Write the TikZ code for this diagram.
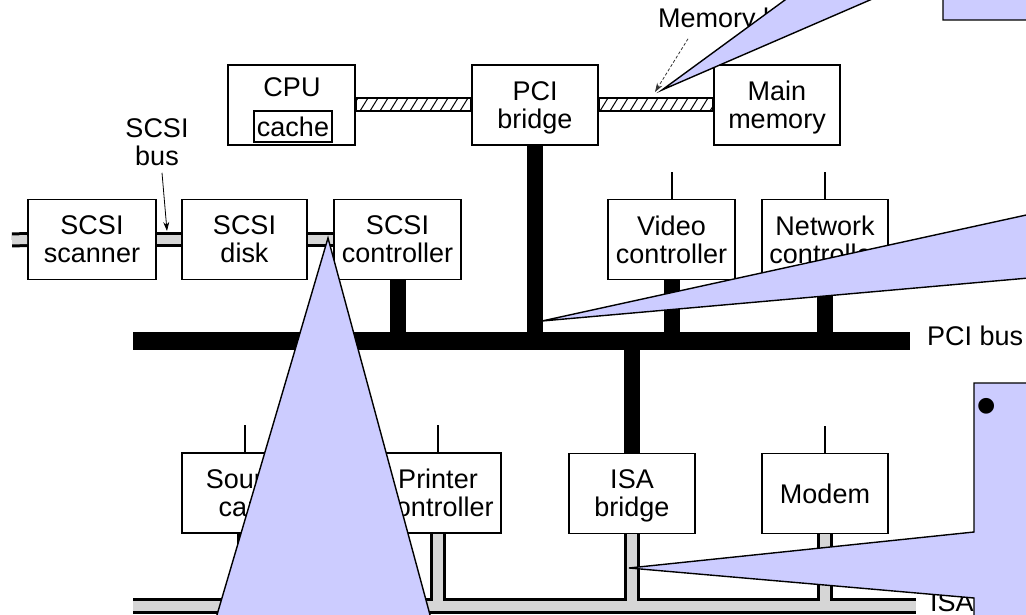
\documentclass[tikz,border=0pt]{standalone}
\usepackage{fontspec}
\setmainfont{Liberation Sans}
\usetikzlibrary{arrows.meta}
\definecolor{calloutfill}{HTML}{CCCCFF}
\definecolor{busgray}{HTML}{D6D6D6}
\begin{document}
\begin{tikzpicture}[x=1pt,y=-1pt,
  txt/.style={font=\fontsize{27}{28}\selectfont, inner sep=0pt},
  unit/.style={txt, draw, line width=1.8pt, fill=white, minimum width=126pt,
    minimum height=80pt, align=center, text depth=0pt},
  stub/.style={line width=2pt},
  pcibus/.style={line width=18pt},
  pcidrop/.style={line width=16pt},
  isaedge/.style={line width=16pt, black},
  isafill/.style={line width=10pt, busgray},
  scsiedge/.style={line width=15pt, black},
  scsifill/.style={line width=9pt, busgray},
  ptr/.style={line width=0.8pt, -{Stealth[length=9pt,width=6pt]}},
  callout/.style={fill=calloutfill, draw=black, line width=1.4pt, line join=miter}
]
\useasboundingbox (0,0) rectangle (1026,615);
\clip (0,0) rectangle (1026,615);

% ---- units ----
\node[unit, minimum width=127pt] (cpu) at (291.5,105) {};
\node[txt] (cputxt) at (292,87) {CPU};
\node[txt, draw, line width=2.8pt, minimum width=78pt, minimum height=31pt] (cache) at (293,126.5) {cache};
\node[unit] (pcib) at (535,105) {PCI\\bridge};
\node[unit] (mem) at (777,105) {Main\\memory};

\node[unit, minimum width=128pt] (scanner) at (92,239.5) {SCSI\\scanner};
\node[unit, minimum width=125pt] (disk) at (244.5,239.5) {SCSI\\disk};
\node[unit, minimum width=127pt] (scsictl) at (397.5,239.5) {SCSI\\controller};
\node[unit, minimum width=127pt] (video) at (671.5,239.5) {Video\\controller};
\node[unit] (net) at (825,239.5) {Network\\controller};

\node[unit] (sound) at (245,493) {Sound\\card};
\node[unit] (printer) at (438,493) {Printer\\controller};
\node[unit] (isab) at (632,493.5) {ISA\\bridge};
\node[unit] (modem) at (825,493.5) {Modem};

% ---- memory bus (hatched) ----
\coordinate (mbtop) at (0,98);
\coordinate (mbbot) at (0,111);
\foreach \a/\b in {cpu/pcib, pcib/mem} {
  \begin{scope}
    \clip (\a.east |- mbtop) rectangle (\b.west |- mbbot);
    \foreach \x in {330,340,...,720} \draw[line width=1pt] (\x,111) -- ++(8,-13);
  \end{scope}
  \draw[line width=1.6pt] (\a.east |- mbtop) rectangle (\b.west |- mbbot);
}

% ---- PCI bus ----
\coordinate (pciL) at (133,341);
\coordinate (pciR) at (910,341);
\draw[pcibus] (pciL) -- (pciR);
\foreach \u in {pcib, scsictl, video, net}
  \draw[pcidrop] (\u.south) -- (\u.south |- pciL);
\draw[pcidrop] (isab.north) -- (isab.north |- pciL);

% ---- short stubs above the cards ----
\foreach \u in {video, net, sound, printer, modem}
  \draw[stub] (\u.north) -- ++(0,-27);

% ---- ISA bus ----
\coordinate (isaL) at (133,606);
\coordinate (isaR) at (916,606);
\foreach \s in {isaedge, isafill} {
  \draw[\s] (isaL) -- (isaR);
  \foreach \u in {sound, printer, isab, modem}
    \draw[\s] (\u.south) -- (\u.south |- isaL);
}

% ---- SCSI bus ----
\coordinate (scsiL) at (12,240);
\foreach \s in {scsiedge, scsifill} {
  \draw[\s] (scsiL) -- (scanner.west);
  \draw[\s] (scanner.east) -- (disk.west);
  \draw[\s] (disk.east) -- (scsictl.west);
}

% ---- bus labels ----
\node[txt, anchor=base west] (memlbl) at (658,28) {Memory bus};
\coordinate (memptr) at (655,92);
\draw[ptr, gray!40!black, dash pattern=on 3pt off 2pt] ([shift={(30,5)}]memlbl.south west) -- (memptr);

\node[txt, align=center] (scsilbl) at (157,142) {SCSI\\bus};
\coordinate (scsiptr) at (167,231);
\draw[ptr] ([shift={(5,7)}]scsilbl.south) -- (scsiptr);

\node[txt, anchor=base west] (pcilbl) at (927,345) {PCI bus};
\node[txt, anchor=base west] (isalbl) at (930,611) {ISA bus};

% ---- callouts ----
\draw[callout] (662,90) -- (943,-115.7) -- (943,-200) -- (1100,-200) -- (1100,20)
  -- (943,20) -- (943,-31.6) -- cycle;
\draw[callout] (542,321) -- (1040,212) -- (1040,277) -- cycle;
\draw[callout] (629,568) -- (974,532) -- (974,383) -- (1040,383) -- (1040,640)
  -- (974,640) -- (974,598) -- cycle;
\draw[callout] (328,238) -- (209.6,640) -- (436.8,640) -- cycle;
\node[font=\fontsize{58}{58}\selectfont, inner sep=0pt] (bullet) at (987,412) {•};
\end{tikzpicture}
\end{document}
